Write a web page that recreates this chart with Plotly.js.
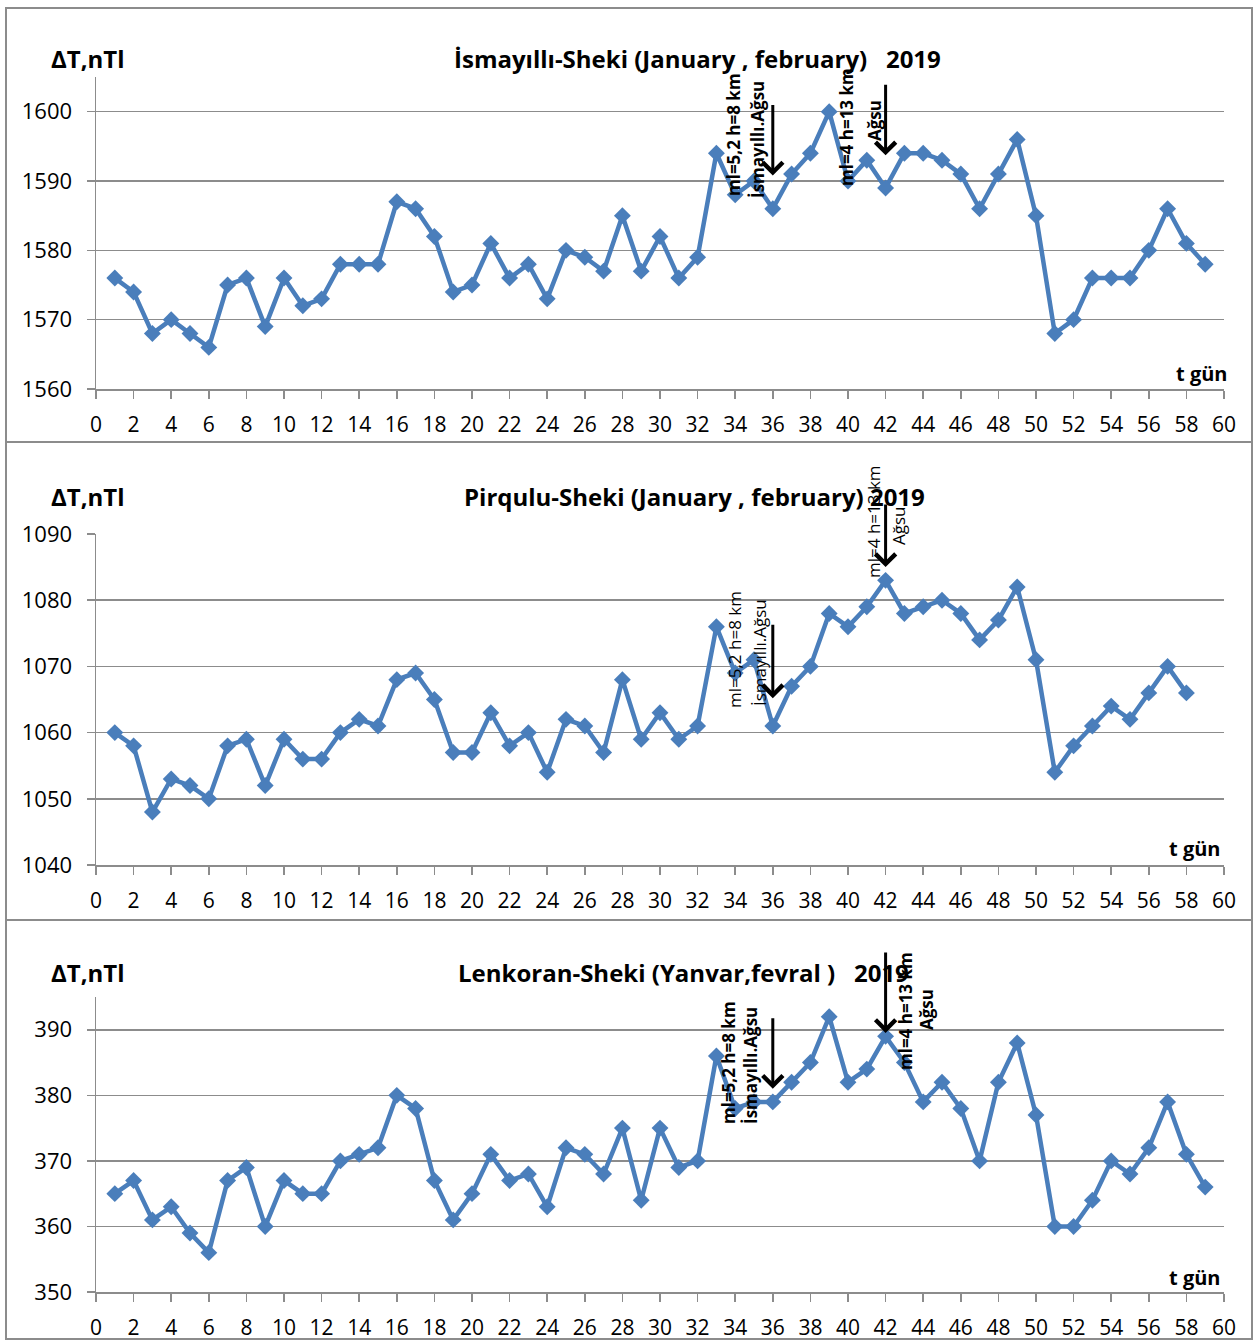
<!DOCTYPE html>
<html>
<head>
<meta charset="utf-8">
<script src="https://cdn.plot.ly/plotly-3.0.1.min.js"></script>
<style>html,body{margin:0;padding:0;background:#fff;}#chart{width:1255px;height:1340px;}</style>
</head>
<body>
<div id="chart"></div>
<script>
// ---------- DATA ----------
const days59 = [1,2,3,4,5,6,7,8,9,10,11,12,13,14,15,16,17,18,19,20,21,22,23,24,25,26,27,28,29,30,31,32,33,34,35,36,37,38,39,40,41,42,43,44,45,46,47,48,49,50,51,52,53,54,55,56,57,58,59];
const days58 = [1,2,3,4,5,6,7,8,9,10,11,12,13,14,15,16,17,18,19,20,21,22,23,24,25,26,27,28,29,30,31,32,33,34,35,36,37,38,39,40,41,42,43,44,45,46,47,48,49,50,51,52,53,54,55,56,57,58];

const ismayilliSheki = [1576,1574,1568,1570,1568,1566,1575,1576,1569,1576,1572,1573,1578,1578,1578,1587,1586,1582,1574,1575,1581,1576,1578,1573,1580,1579,1577,1585,1577,1582,1576,1579,1594,1588,1590,1586,1591,1594,1600,1590,1593,1589,1594,1594,1593,1591,1586,1591,1596,1585,1568,1570,1576,1576,1576,1580,1586,1581,1578];
const pirquluSheki = [1060,1058,1048,1053,1052,1050,1058,1059,1052,1059,1056,1056,1060,1062,1061,1068,1069,1065,1057,1057,1063,1058,1060,1054,1062,1061,1057,1068,1059,1063,1059,1061,1076,1069,1071,1061,1067,1070,1078,1076,1079,1083,1078,1079,1080,1078,1074,1077,1082,1071,1054,1058,1061,1064,1062,1066,1070,1066];
const lenkoranSheki = [365,367,361,363,359,356,367,369,360,367,365,365,370,371,372,380,378,367,361,365,371,367,368,363,372,371,368,375,364,375,369,370,386,378,379,379,382,385,392,382,384,389,385,379,382,378,370,382,388,377,360,360,364,370,368,372,379,371,366];

const titles = [
  "İsmayıllı-Sheki (January , february)\u00a0\u00a0\u00a02019",
  "Pirqulu-Sheki (January , february) 2019",
  "Lenkoran-Sheki (Yanvar,fevral )\u00a0\u00a0\u00a02019"
];
const yLabel = "ΔT,nTl";
const xLabel = "t gün";
const quake1 = "ml=5,2 h=8 km";
const place1 = "İsmayıllı.Ağsu";
const quake2 = "ml=4 h=13 km";
const place2 = "Ağsu";

// ---------- LAYOUT HELPERS ----------
const W = 1255, H = 1340;
const px = x => x / W;
const py = y => 1 - y / H;

const FONT = "'Open Sans', Lato, sans-serif";
const LINE = "#4A7EBB";
const GRID = "#8c8c8c";

function series(x, y, xa, ya) {
  return {
    x: x, y: y, xaxis: xa, yaxis: ya, type: "scatter", mode: "lines+markers",
    line: {color: LINE, width: 4.5},
    marker: {symbol: "diamond", size: 13, color: LINE},
    showlegend: false, hoverinfo: "x+y"
  };
}

const data = [
  series(days59, ismayilliSheki, "x", "y"),
  series(days58, pirquluSheki, "x2", "y2"),
  series(days59, lenkoranSheki, "x3", "y3")
];

function xaxis(anchor) {
  return {
    anchor: anchor, domain: [px(96), px(1224)], range: [0, 60], dtick: 2, tick0: 0,
    showgrid: false, zeroline: false, showline: true, linecolor: GRID, linewidth: 1.5,
    ticks: "outside", ticklen: 8, tickwidth: 1.5, tickcolor: GRID,
    ticklabelstandoff: 8,
    tickfont: {family: FONT, size: 21, color: "#000"}, fixedrange: true
  };
}
function yaxis(anchor, top, bottom, range) {
  return {
    anchor: anchor, domain: [py(bottom), py(top)], range: range, dtick: 10, tick0: 0,
    showgrid: true, gridcolor: GRID, gridwidth: 1.5, zeroline: false,
    showline: true, linecolor: GRID, linewidth: 1.5,
    ticks: "outside", ticklen: 8, tickwidth: 1.5, tickcolor: GRID,
    ticklabelstandoff: 10,
    tickfont: {family: FONT, size: 22, color: "#000"}, fixedrange: true
  };
}

const annotations = [];
function text(t, x, y, size, bold, anchor, angle) {
  annotations.push({
    xref: "paper", yref: "paper", x: px(x), y: py(y), text: bold ? "<b>" + t + "</b>" : t,
    showarrow: false, xanchor: anchor || "center", yanchor: "middle", textangle: angle || 0,
    font: {family: FONT, size: size, color: "#000"}
  });
}
function arrow(xref, yref, xv, yv, len) {
  annotations.push({
    xref: xref, yref: yref, x: xv, y: yv, ax: 0, ay: -len, axref: "pixel", ayref: "pixel",
    text: "", showarrow: true, arrowhead: 4, arrowsize: 1.3, arrowwidth: 3, arrowcolor: "#000", standoff: 0
  });
}

// panel headers
const titleY = [58, 496, 972];
const titleX = [697, 695, 683];
const labelY = [58, 496, 972];
const tgunY = [373, 848, 1277];
const tgunX = [1229, 1222, 1222];
for (let i = 0; i < 3; i++) {
  text(titles[i], titleX[i], titleY[i], 24, true, "center");
  text(yLabel, 49, labelY[i], 24, true, "left");
  text(xLabel, tgunX[i], tgunY[i], 20, true, "right");
}

// panel 1 event labels
text(quake1, 733, 135, 17, true, "center", -90);
text(place1, 758, 140, 17, true, "center", -90);
text(quake2, 847, 127, 17, true, "center", -90);
text(place2, 875, 121, 17, true, "center", -90);
arrow("x", "y", 36, 1590.8, 72);
arrow("x", "y", 42, 1593.7, 72);

// panel 2 event labels
text(quake1, 735, 650, 17, false, "center", -90);
text(place1, 760, 653, 17, false, "center", -90);
text(quake2, 873, 522, 17, false, "center", -90);
text(place2, 898, 526, 17, false, "center", -90);
arrow("x2", "y2", 36, 1065.2, 75);
arrow("x2", "y2", 42, 1085.0, 64);

// panel 3 event labels
text(quake1, 728, 1063, 17, true, "center", -90);
text(place1, 750, 1066, 17, true, "center", -90);
text(quake2, 905, 1011, 17, true, "center", -90);
text(place2, 927, 1010, 17, true, "center", -90);
arrow("x3", "y3", 36, 381.0, 72);
arrow("x3", "y3", 42, 389.5, 82);

// panel borders
const shapes = [
  {type: "rect", xref: "paper", yref: "paper", x0: px(6), x1: px(1252), y0: py(442), y1: py(8), line: {color: "#8c8c8c", width: 2}},
  {type: "rect", xref: "paper", yref: "paper", x0: px(6), x1: px(1252), y0: py(920), y1: py(442), line: {color: "#8c8c8c", width: 2}},
  {type: "rect", xref: "paper", yref: "paper", x0: px(6), x1: px(1252), y0: py(1339), y1: py(920), line: {color: "#8c8c8c", width: 2}}
];

const layout = {
  width: W, height: H, margin: {l: 0, r: 0, t: 0, b: 0},
  paper_bgcolor: "#fff", plot_bgcolor: "#fff", showlegend: false,
  xaxis: xaxis("y"), yaxis: yaxis("x", 77, 389, [1560, 1605]),
  xaxis2: xaxis("y2"), yaxis2: yaxis("x2", 534, 865, [1040, 1090]),
  xaxis3: xaxis("y3"), yaxis3: yaxis("x3", 997, 1292, [350, 395]),
  annotations: annotations, shapes: shapes
};

Plotly.newPlot("chart", data, layout, {displayModeBar: false, staticPlot: true});
</script>
</body>
</html>
